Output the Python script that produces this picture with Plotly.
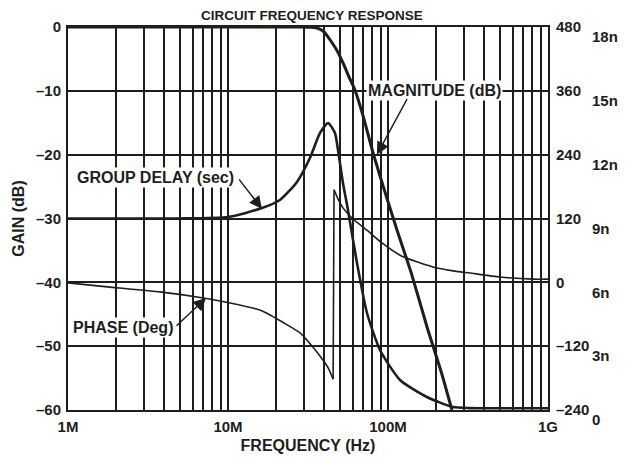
import math
import plotly.graph_objects as go

# frequencies in MHz
mag_f = [1, 10, 28, 33, 36.5, 40, 43.4, 48, 52.3, 57, 62.2, 70, 80.6, 95, 113.8, 140, 177.8, 215, 251]
mag_db = [0, 0, 0, -0.05, -0.2, -0.8, -2.0, -3.7, -5.6, -7.8, -9.9, -14.0, -19.7, -25.6, -31.8, -38.6, -47.5, -54.0, -60.0]

gd_f = [1, 4.8, 10, 16.3, 21.1, 27.0, 32.5, 37.6, 42.2, 46.6, 48.7, 52.3, 56.2, 64.0, 73.9, 89.1,
        118.9, 175, 255, 325, 500, 1000]
gd_ns = [9.0, 9.0, 9.07, 9.49, 9.87, 10.72, 11.84, 13.02, 13.49, 13.02, 12.22, 10.67, 9.40, 6.91,
         4.56, 2.82, 1.41, 0.61, 0.14, 0.09, 0.08, 0.08]

ph_f = [1, 1.83, 3.76, 7.18, 10.3, 15.8, 17.5, 22, 28.2, 34.0, 39.2, 42.5, 45.4, 46.0, 49, 52.3,
        60, 73.9, 90, 118.9, 150, 191, 250, 325, 501, 805, 1000]
ph_deg = [-1, -9, -18, -30, -39, -52, -58, -75, -95, -122, -146, -162, -182, 174, 155, 140,
          120, 98, 76, 51, 39, 29, 22, 17.5, 10, 6, 6]

gain_ticks = [0, -10, -20, -30, -40, -50, -60]
gain_text = ["0", "–10", "–20", "–30", "–40", "–50", "–60"]
phase_ticks = [480, 360, 240, 120, 0, -120, -240]
phase_text = ["480", "360", "240", "120", "0", "–120", "–240"]
delay_ticks = [18, 15, 12, 9, 6, 3, 0]
delay_text = ["18n", "15n", "12n", "9n", "6n", "3n", "0"]
freq_labels = {1e6: "1M", 1e7: "10M", 1e8: "100M", 1e9: "1G"}

ink = "#1e1e1e"

# every 1..9 x decade gets a grid line, only decades get labels
grid_f = [m * 10 ** e for e in range(6, 9) for m in range(1, 10)] + [1e9]
grid_text = [freq_labels.get(v, "") for v in grid_f]

# phase wraps at -180, draw the two branches separately so the spline stays clean
wrap = ph_deg.index(174)

fig = go.Figure()
fig.add_trace(go.Scatter(x=[f * 1e6 for f in gd_f], y=gd_ns, yaxis="y3", mode="lines",
                         line=dict(color=ink, width=2.6, shape="spline", smoothing=0.6)))
fig.add_trace(go.Scatter(x=[f * 1e6 for f in ph_f[:wrap]], y=ph_deg[:wrap], yaxis="y2", mode="lines",
                         line=dict(color=ink, width=1.6, shape="spline", smoothing=0.5)))
fig.add_trace(go.Scatter(x=[f * 1e6 for f in ph_f[wrap - 1:wrap + 1]], y=ph_deg[wrap - 1:wrap + 1],
                         yaxis="y2", mode="lines", line=dict(color=ink, width=1.6)))
fig.add_trace(go.Scatter(x=[f * 1e6 for f in ph_f[wrap:]], y=ph_deg[wrap:], yaxis="y2", mode="lines",
                         line=dict(color=ink, width=1.6, shape="spline", smoothing=0.5)))
fig.add_trace(go.Scatter(x=[f * 1e6 for f in mag_f], y=mag_db, mode="lines",
                         line=dict(color=ink, width=3, shape="spline", smoothing=0.5)))

family = "Liberation Sans, Arial, sans-serif"
tick_font = dict(family=family, size=15, color=ink, weight="bold")
label_font = dict(family=family, size=16, color=ink, weight="bold")

# the page body adds 8px on the left/top, so the figure is 8px smaller
fig.update_layout(
    width=620, height=453,
    margin=dict(l=60, r=80, t=19, b=51),
    paper_bgcolor="white", plot_bgcolor="white",
    showlegend=False,
    font=tick_font,
    title=dict(text="CIRCUIT FREQUENCY RESPONSE", x=0.49, xanchor="center", y=0.985,
               yanchor="middle", automargin=False,
               font=dict(family=family, size=13.5, color=ink, weight="bold")),
    xaxis=dict(type="log", range=[6, 9], tickvals=grid_f, ticktext=grid_text, automargin=False,
               showgrid=True, gridcolor=ink, gridwidth=1.5, zeroline=False,
               showline=True, linecolor=ink, linewidth=2, mirror=True, ticks="",
               ticklabelstandoff=2, tickfont=tick_font,
               title=dict(text="FREQUENCY (Hz)", standoff=6, font=label_font)),
    yaxis=dict(range=[-60, 0], tickvals=gain_ticks, ticktext=gain_text, automargin=False,
               showgrid=True, gridcolor=ink, gridwidth=1.5, zeroline=False,
               showline=True, linecolor=ink, linewidth=2, mirror=True, ticks="",
               ticklabelstandoff=2, tickfont=tick_font,
               title=dict(text="GAIN (dB)", standoff=7, font=label_font)),
    yaxis2=dict(overlaying="y", side="right", anchor="x", range=[-240, 480], automargin=False,
                tickvals=phase_ticks, ticktext=phase_text, showgrid=False, zeroline=False,
                showline=False, ticks="", ticklabelstandoff=7, tickfont=tick_font),
    yaxis3=dict(overlaying="y", side="right", anchor="x", range=[0, 18], automargin=False,
                tickvals=delay_ticks, ticktext=delay_text, showgrid=False, zeroline=False,
                showline=False, ticks="", ticklabelstandoff=43, ticklabelshift=10,
                tickfont=tick_font),
)

# curve labels with white boxes, arrows drawn separately (log axis -> log10 x)
labels = [("MAGNITUDE (dB)", 194e6, -10.0), ("GROUP DELAY (sec)", 3.5e6, -23.5),
          ("PHASE (Deg)", 2.21e6, -47.0)]
for txt, fx, gy in labels:
    fig.add_annotation(x=math.log10(fx), y=gy, xref="x", yref="y", text=txt, showarrow=False,
                       bgcolor="white", font=label_font, borderpad=1)

arrows = [(85.2e6, -20.0, 31, -57), (16.3e6, -28.5, -24, -31), (7.29e6, -42.46, -31, 29)]
for fx, gy, ax, ay in arrows:
    fig.add_annotation(x=math.log10(fx), y=gy, xref="x", yref="y", text="", showarrow=True,
                       ax=ax, ay=ay, arrowhead=2, arrowsize=1.8, arrowwidth=1.4,
                       arrowcolor=ink, standoff=0)

fig.write_html("out.html")
